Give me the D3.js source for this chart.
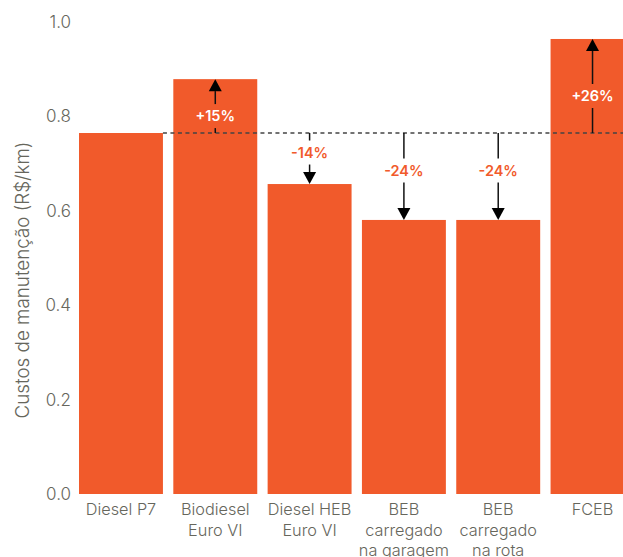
<!DOCTYPE html>
<html><head><meta charset="utf-8">
<script src="https://cdn.jsdelivr.net/npm/d3@7"></script>
<style>html,body{margin:0;padding:0;background:#fff;overflow:hidden}</style>
</head><body>
<svg id="c" width="623" height="557"></svg>
<script>
const categories = [["Diesel P7"], ["Biodiesel","Euro VI"], ["Diesel HEB","Euro VI"], ["BEB","carregado","na garagem"], ["BEB","carregado","na rota"], ["FCEB"]];
const values = [0.764, 0.878, 0.656, 0.580, 0.580, 0.963];
const changeLabels = [null, "+15%", "-14%", "-24%", "-24%", "+26%"];
const yTicks = [0, 0.2, 0.4, 0.6, 0.8, 1.0];
const yTitle = "Custos de manutenção (R$/km)";

const W = 623, H = 557;
const orange = "#F15A2B", grey = "#66665c", font = "Inter, Lato, sans-serif";
const svg = d3.select("#c");
const keys = categories.map(c => c.join(" "));
const x = d3.scaleBand().domain(keys).range([79, 634.5]).paddingInner(0.11).paddingOuter(0);
const y = d3.scaleLinear().domain([0, 1]).range([494, 21.5]);

// y ticks
svg.append("g").selectAll("text").data(yTicks).join("text")
  .attr("x", 71).attr("y", d => y(d)).attr("dy", "0.36em")
  .attr("text-anchor", "end").attr("font-family", font).attr("font-weight", 300).attr("font-size", 17)
  .attr("fill", grey).text(d => d.toFixed(1));

// y title
svg.append("text").attr("transform", `translate(29,280) rotate(-90)`)
  .attr("text-anchor", "middle").attr("font-family", font).attr("font-weight", 300).attr("font-size", 18.8)
  .attr("fill", grey).text(yTitle);

// bars
svg.append("g").selectAll("rect").data(values).join("rect")
  .attr("x", (d,i) => x(keys[i])).attr("width", x.bandwidth())
  .attr("y", d => y(d)).attr("height", d => y(0) - y(d)).attr("fill", orange);

// x labels
const xl = svg.append("g").selectAll("text").data(categories).join("text")
  .attr("x", (d,i) => x(keys[i]) + x.bandwidth()/2).attr("y", 509.5)
  .attr("text-anchor", "middle").attr("font-family", font).attr("font-weight", 300).attr("font-size", 16.3)
  .attr("fill", grey);
xl.each(function(d) {
  const t = d3.select(this);
  d.forEach((line, j) => t.append("tspan").attr("x", t.attr("x")).attr("dy", j === 0 ? "0.36em" : "1.24em").text(line));
});

// reference dashed line
const refY = y(values[0]);
svg.append("line").attr("x1", x(keys[0]) + x.bandwidth()).attr("x2", W)
  .attr("y1", refY).attr("y2", refY).attr("stroke", "#444").attr("stroke-width", 1.3)
  .attr("stroke-dasharray", "4,3.5");

// arrows
const ah = 12, aw = 6.5, gap = 12;
values.forEach((v, i) => {
  if (!changeLabels[i]) return;
  const cx = x(keys[i]) + x.bandwidth()/2;
  const top = y(v);
  const up = top < refY;
  const sign = up ? 1 : -1;
  const shaftEnd = top + sign * ah;
  const mid = (refY + shaftEnd) / 2 + (up ? 4 : 0);
  const g = svg.append("g");
  g.append("line").attr("x1", cx).attr("x2", cx).attr("y1", refY).attr("y2", mid + sign * gap)
    .attr("stroke", "#111").attr("stroke-width", 1.5);
  g.append("line").attr("x1", cx).attr("x2", cx).attr("y1", mid - sign * gap).attr("y2", shaftEnd)
    .attr("stroke", "#111").attr("stroke-width", 1.5);
  g.append("path").attr("d", `M${cx},${top} L${cx-aw},${shaftEnd} L${cx+aw},${shaftEnd} Z`).attr("fill", "#000");
  g.append("text").attr("x", cx).attr("y", mid).attr("dy", "0.36em").attr("text-anchor", "middle")
    .attr("font-family", font).attr("font-weight", 600).attr("font-size", 14.5)
    .attr("fill", up ? "#fff" : orange).text(changeLabels[i]);
});
</script>
</body></html>
